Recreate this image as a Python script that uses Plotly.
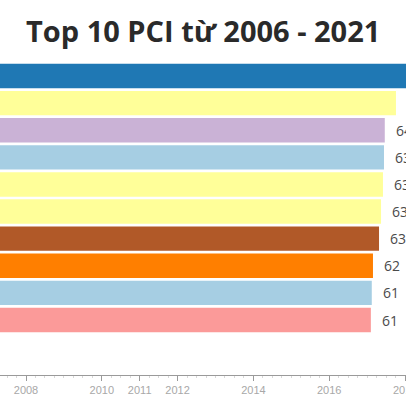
import plotly.graph_objects as go

# ---- data ----
provinces = ["Quảng Ninh", "Đà Nẵng", "Đồng Tháp", "Bình Dương", "Lào Cai",
             "Vĩnh Long", "Bà Rịa - Vũng Tàu", "Long An", "Bến Tre", "An Giang"]
pci = [68.0, 65.45, 63.6, 63.47, 63.3, 62.98, 62.65, 61.65, 61.45, 61.3]
bar_colors = ["#1f78b4", "#ffff99", "#cab2d6", "#a6cee3", "#ffff99",
              "#ffff99", "#b15928", "#ff7f00", "#a6cee3", "#fb9a99"]
timeline_ticks = [2008, 2010, 2011, 2012, 2014, 2016, 2018]
timeline_labels = [str(y) for y in timeline_ticks]
title_text = "Top 10 PCI từ 2006 - 2021"

W = H = 406
tick_font = dict(family="Liberation Sans", size=11, color="#a8a8a8")

fig = go.Figure()
fig.add_trace(go.Bar(
    y=provinces, x=pci, orientation="h",
    marker=dict(color=bar_colors, line=dict(width=0)),
    hoverinfo="skip", showlegend=False,
))
# empty trace for the timeline axis
fig.add_trace(go.Scatter(x=[], y=[], xaxis="x2", yaxis="y2", showlegend=False))

annotations = []
for p, v in zip(provinces, pci):
    annotations.append(dict(
        x=v, y=p, xref="x", yref="y", text=f"{v:.0f}", showarrow=False,
        xanchor="left", yanchor="middle", xshift=9,
        font=dict(family="Open Sans", size=14, color="#4a4a4a"),
    ))
annotations.append(dict(
    x=0.5, y=1 - 31 / H, xref="paper", yref="paper", text=f"<b>{title_text}</b>",
    showarrow=False, xanchor="center", yanchor="middle",
    font=dict(family="Open Sans", size=29, color="#2a2a2a"),
))
# last timeline label, partly beyond the right edge (plotly hides overflowing tick labels)
annotations.append(dict(
    x=timeline_ticks[-1], y=1 - 375 / H, xref="x2", yref="paper",
    text=timeline_labels[-1], showarrow=False, xanchor="center", yanchor="top",
    yshift=-7, font=tick_font,
))

fig.update_layout(
    width=W, height=H,
    margin=dict(l=0, r=0, t=0, b=0),
    paper_bgcolor="white", plot_bgcolor="white",
    bargap=0.1,
    xaxis=dict(range=[0, 406 / 6.05], visible=False, domain=[0, 1], anchor="y"),
    yaxis=dict(range=[9.5, -0.5], visible=False, domain=[1 - 333.55 / H, 1 - 62.45 / H],
               anchor="x"),
    xaxis2=dict(range=[2008 - 26 / 37.9, 2008 + 380 / 37.9], domain=[0, 1], anchor="y2",
                showline=True, linecolor="#9a9a9a", linewidth=1,
                ticks="outside", ticklen=5, tickcolor="#9a9a9a", tickwidth=1,
                tickvals=timeline_ticks, ticktext=timeline_labels,
                tickfont=tick_font,
                showgrid=False, zeroline=False,
                minor=dict(ticks="outside", ticklen=2, tickcolor="#d8d8d8", dtick=0.25)),
    yaxis2=dict(domain=[1 - 375 / H, 1 - 374 / H], visible=False, anchor="x2"),
    annotations=annotations,
)

fig.write_html(
    "out.html",
    config={"displayModeBar": False},
    post_script="document.body.style.margin='0';document.body.style.padding='0';"
                "document.body.style.overflow='hidden';",
)
